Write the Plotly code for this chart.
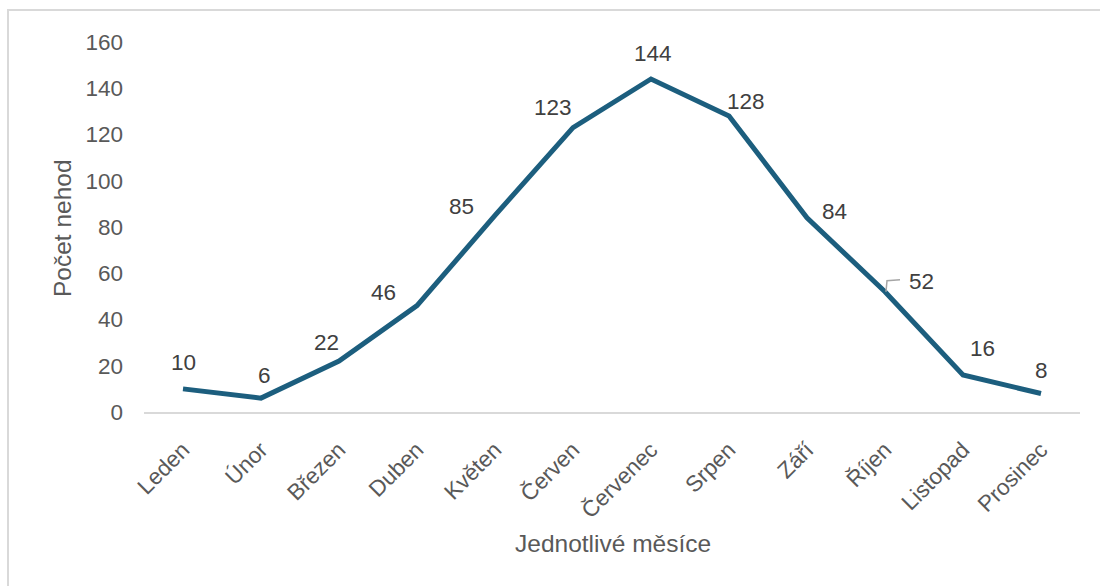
import plotly.graph_objects as go

months = ["Leden", "Únor", "Březen", "Duben", "Květen", "Červen", "Červenec",
          "Srpen", "Září", "Říjen", "Listopad", "Prosinec"]
accidents = [10, 6, 22, 46, 85, 123, 144, 128, 84, 52, 16, 8]
y_ticks = [0, 20, 40, 60, 80, 100, 120, 140, 160]

# label offsets in pixels (xshift, yshift) relative to each point
label_shifts = [(0, 26), (3, 23), (-13, 19), (-34, 13), (-34, 9), (-20, 20),
                (2, 26), (17, 15), (27, 6), (36, 10), (19, 27), (0, 23)]

FONT = "Liberation Sans"
LINE_COLOR = "#1c5e7e"
TEXT = "#595959"
TICK_SIZE = 22.5

fig = go.Figure()
fig.add_trace(go.Scatter(
    x=months, y=accidents, mode="lines",
    line=dict(color=LINE_COLOR, width=5, shape="linear"),
    hoverinfo="x+y", showlegend=False,
))

annotations = []
for m, v, (dx, dy) in zip(months, accidents, label_shifts):
    annotations.append(dict(
        x=m, y=v, xref="x", yref="y", text=str(v), showarrow=False,
        xshift=dx, yshift=dy, font=dict(family=FONT, size=TICK_SIZE, color="#404040"),
    ))

annotations.append(dict(
    x=(613 - 144) / 936, y=(412 - 543) / 370, xref="paper", yref="paper",
    text="Jednotlivé měsíce", showarrow=False,
    font=dict(family=FONT, size=24.5, color=TEXT), xanchor="center", yanchor="middle",
))
annotations.append(dict(
    x=(62 - 144) / 936, y=(412 - 228) / 370, xref="paper", yref="paper",
    text="Počet nehod", showarrow=False, textangle=-90,
    font=dict(family=FONT, size=24.5, color=TEXT), xanchor="center", yanchor="middle",
))

shapes = [
    # outer chart frame (left and top visible)
    dict(type="rect", xref="paper", yref="paper",
         x0=(8 - 144) / 936, x1=(1200 - 144) / 936,
         y0=(412 - 700) / 370, y1=(412 - 10) / 370,
         line=dict(color="#d9d9d9", width=2), fillcolor="rgba(0,0,0,0)", layer="below"),
    # leader line for label 52
    dict(type="path", xref="x", yref="y", xsizemode="pixel", ysizemode="pixel",
         xanchor="Říjen", yanchor=52, path="M 1 0 L 2 11 L 15 12",
         line=dict(color="#a6a6a6", width=1.5)),
]

fig.update_layout(
    width=1100, height=586,
    margin=dict(l=144, r=20, t=42, b=174),
    paper_bgcolor="white", plot_bgcolor="white",
    font=dict(family=FONT, color=TEXT, size=TICK_SIZE),
    annotations=annotations, shapes=shapes,
    xaxis=dict(
        type="category", tickangle=-45, showgrid=False, zeroline=False,
        showline=True, linecolor="#d9d9d9", linewidth=1.5, ticks="",
        tickfont=dict(family=FONT, size=TICK_SIZE, color=TEXT), ticklabelstandoff=14,
        range=[-0.5, 11.5],
    ),
    yaxis=dict(
        range=[0, 160], tickvals=y_ticks, showgrid=False, zeroline=False,
        showline=False, ticks="", tickfont=dict(family=FONT, size=TICK_SIZE, color=TEXT),
        ticklabelstandoff=20,
    ),
)

fig.write_html("out.html")
